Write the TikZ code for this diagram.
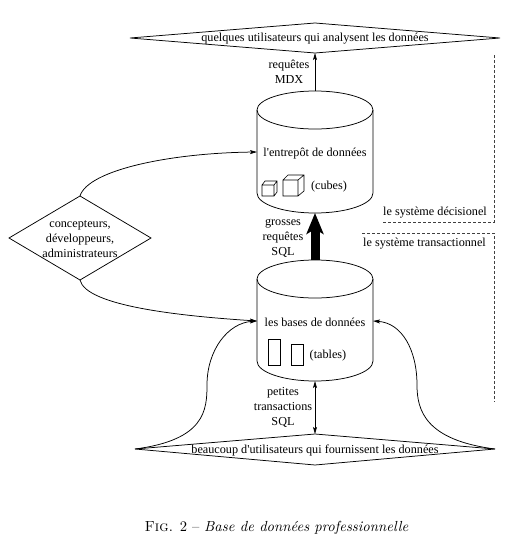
\documentclass[tikz,border=0pt]{standalone}
\usepackage{graphicx}
\usepackage{fontspec}
\newfontfamily\txtfont{Liberation Serif}
\usetikzlibrary{arrows.meta}
\tikzset{
  every node/.style={font=\txtfont\fontsize{12.2pt}{15pt}\selectfont,align=center,inner sep=0pt},
  ln/.style={line width=0.75pt,black},
  thinarrow/.style={line width=0.75pt,-{Stealth[length=7pt,width=4pt,inset=1.5pt]}},
  dualarrow/.style={line width=0.75pt,{Stealth[length=7pt,width=4pt,inset=1.5pt]}-{Stealth[length=7pt,width=4pt,inset=1.5pt]}},
  bigarrow/.style={line width=9pt,-{Stealth[length=21pt,width=17pt,inset=5pt]}},
  bord/.style={densely dashed,line width=0.4pt,black!75},
}
\begin{document}
\begin{tikzpicture}[x=1pt,y=-1pt]
\useasboundingbox (0,0) rectangle (518,549);
% anchors
\coordinate (tdL) at (130,38); \coordinate (tdT) at (315,23); \coordinate (tdR) at (500,38); \coordinate (tdB) at (315,53);
\coordinate (bdL) at (135,449); \coordinate (bdT) at (315,434); \coordinate (bdR) at (495,449); \coordinate (bdB) at (315,465);
\coordinate (ldL) at (9,238); \coordinate (ldT) at (80,196); \coordinate (ldR) at (151,238); \coordinate (ldB) at (80,280);
\coordinate (upT) at (315,91); \coordinate (upB) at (315,213); \coordinate (upW) at (257,152);
\coordinate (loT) at (315,260); \coordinate (loB) at (315,381); \coordinate (loW) at (257,321); \coordinate (loE) at (373,321);
% diamonds
\draw[ln] (tdL) -- (tdT) -- (tdR) -- (tdB) -- cycle;
\draw[ln] (bdL) -- (bdT) -- (bdR) -- (bdB) -- cycle;
\draw[ln] (ldL) -- (ldT) -- (ldR) -- (ldB) -- cycle;
% cylinders
\draw[ln] (257,110) arc[start angle=180,end angle=-180,x radius=58,y radius=19];
\draw[ln] (257,110) -- (257,193) arc[start angle=180,end angle=0,x radius=58,y radius=20] -- (373,110);
\draw[ln] (257,279) arc[start angle=180,end angle=-180,x radius=58,y radius=19];
\draw[ln] (257,279) -- (257,361) arc[start angle=180,end angle=0,x radius=58,y radius=20] -- (373,279);
% cubes
\draw[ln,line width=0.6pt] (262,196) rectangle (274,185) (262,185) -- (265,181) -- (277,181) -- (277,192) -- (274,196) (274,185) -- (277,181);
\draw[ln,line width=0.6pt] (283,196) rectangle (298,180) (283,180) -- (288,175) -- (304,175) -- (304,191) -- (298,196) (298,180) -- (304,175);
% tables
\draw[ln,line width=0.6pt] (268,339) rectangle (280,365);
\draw[ln,line width=0.6pt] (291,344) rectangle (303,365);
% connectors
\draw[thinarrow] (upT) -- (tdB);
\draw[bigarrow] (loT) -- (upB);
\draw[dualarrow] (loB) -- (bdT);
\draw[thinarrow] (ldT) .. controls (88,170) and (170,153) .. (upW);
\draw[thinarrow] (ldB) .. controls (86,306) and (180,316) .. (loW);
\draw[thinarrow] (bdL) .. controls (205,440) and (207,410) .. (207,385) .. controls (207,350) and (228,323) .. (loW);
\draw[thinarrow] (bdR) .. controls (425,440) and (417,410) .. (417,385) .. controls (417,350) and (402,323) .. (loE);
% dashed frames
\draw[bord] (383,222) -- (494,222) -- (494,54);
\draw[bord] (362,233) -- (494,233) -- (494,402);
% texts
\node (tdtext) at (315,38.5) {quelques utilisateurs qui analysent les données};
\node (bdtext) at (315,450) {beaucoup d'utilisateurs qui fournissent les données};
\node (ldtext) at (80,239) {concepteurs,\\développeurs,\\administrateurs};
\node (uptext) at (315,154) {l'entrepôt de données};
\node (lotext) at (315,322) {les bases de données};
\node (cubes) at (329,186.5) {(cubes)};
\node (tables) at (328,355.5) {(tables)};
\node (mdx) at (289,72) {requêtes\\MDX};
\node (sqlA) at (283,238) {grosses\\requêtes\\SQL};
\node (sqlB) at (283,407) {petites\\transactions\\SQL};
\node[anchor=west] (dec) at (383,213) {le système décisionel};
\node[anchor=west] (trans) at (363,244) {le système transactionnel};
\node[font=\fontsize{10pt}{12pt}\selectfont] (cap) at (276.5,528) {\scalebox{1.46}{{\scshape Fig.} 2 -- \textit{Base de données professionnelle}}};
\end{tikzpicture}
\end{document}
